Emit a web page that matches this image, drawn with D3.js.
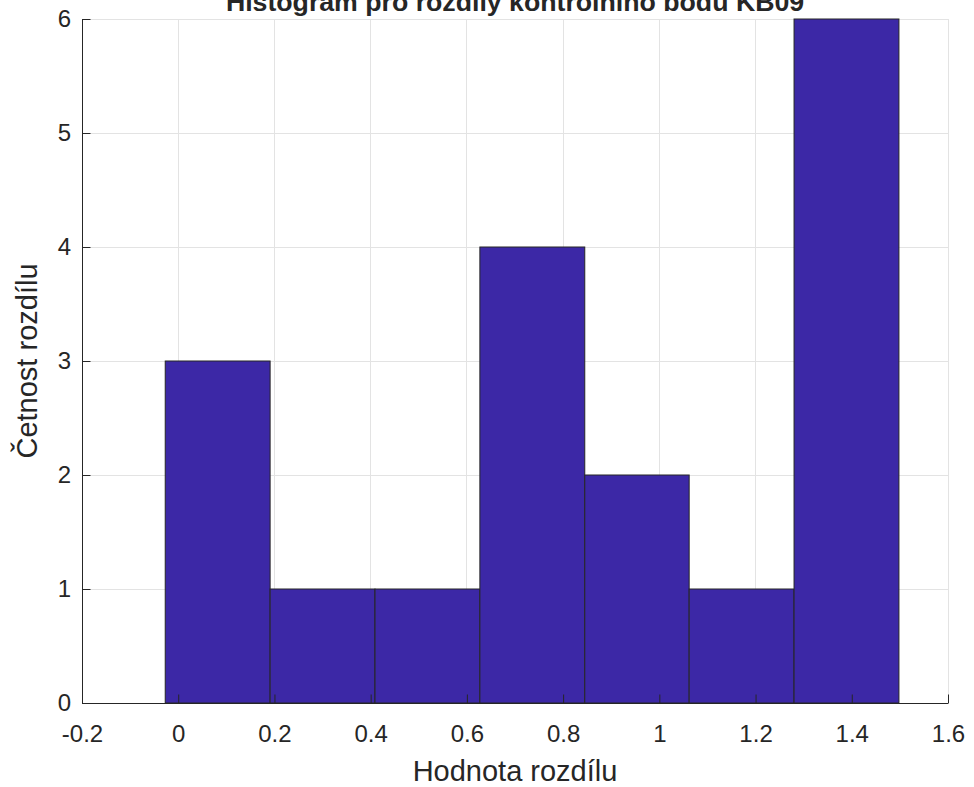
<!DOCTYPE html>
<html>
<head>
<meta charset="utf-8">
<script src="https://cdn.jsdelivr.net/npm/d3@7"></script>
<style>
  html, body { margin: 0; padding: 0; background: #fff; }
  svg { display: block; }
  text { font-family: "Liberation Sans", Arial, Helvetica, sans-serif; fill: #262626; }
</style>
</head>
<body>
<svg id="chart" width="974" height="787"></svg>
<script>
// ---- data ----
const binEdges = [-0.027, 0.191, 0.409, 0.627, 0.845, 1.062, 1.280, 1.498];
const counts = [3, 1, 1, 4, 2, 1, 6];
const xTicks = [-0.2, 0, 0.2, 0.4, 0.6, 0.8, 1.0, 1.2, 1.4, 1.6];
const xTickLabels = ["-0.2", "0", "0.2", "0.4", "0.6", "0.8", "1", "1.2", "1.4", "1.6"];
const yTicks = [0, 1, 2, 3, 4, 5, 6];
const yTickLabels = ["0", "1", "2", "3", "4", "5", "6"];
const titleText = "Histogram pro rozdíly kontrolního bodu KB09";
const xLabelText = "Hodnota rozdílu";
const yLabelText = "Četnost rozdílu";

// ---- layout ----
const L = 82, R = 948, T = 19, B = 703;
const axisColor = "#262626";
const gridColor = "#e3e3e3";
const barColor = "#3c28a6";
const tickLen = 8.5;

const svg = d3.select("#chart");
const x = d3.scaleLinear().domain([-0.2, 1.6]).range([L, R]);
const y = d3.scaleLinear().domain([0, 6]).range([B, T]);

const bins = counts.map((c, i) => ({ x0: binEdges[i], x1: binEdges[i + 1], c }));

// grid
const grid = svg.append("g");
grid.selectAll("line.gx").data(xTicks).join("line")
  .attr("x1", d => x(d)).attr("x2", d => x(d))
  .attr("y1", T).attr("y2", B)
  .attr("stroke", gridColor).attr("stroke-width", 1).attr("shape-rendering", "crispEdges");
grid.selectAll("line.gy").data(yTicks).join("line")
  .attr("x1", L).attr("x2", R)
  .attr("y1", d => y(d)).attr("y2", d => y(d))
  .attr("stroke", gridColor).attr("stroke-width", 1).attr("shape-rendering", "crispEdges");

// bars
svg.append("g").selectAll("rect").data(bins).join("rect")
  .attr("x", d => x(d.x0))
  .attr("y", d => y(d.c))
  .attr("width", d => x(d.x1) - x(d.x0))
  .attr("height", d => y(0) - y(d.c))
  .attr("fill", barColor)
  .attr("stroke", axisColor)
  .attr("stroke-width", 1);

// x axis
const xAxis = d3.axisBottom(x).tickValues(xTicks)
  .tickFormat((d, i) => xTickLabels[i])
  .tickSizeInner(-tickLen).tickSizeOuter(0).tickPadding(22);
const gx = svg.append("g").attr("transform", `translate(0,${B})`).call(xAxis);
gx.select(".domain").attr("stroke", axisColor);
gx.selectAll(".tick line").attr("stroke", axisColor);
gx.selectAll(".tick text").attr("font-size", 24).attr("fill", axisColor)
  .attr("font-family", "Liberation Sans, Arial, sans-serif");

// y axis
const yAxis = d3.axisLeft(y).tickValues(yTicks)
  .tickFormat((d, i) => yTickLabels[i])
  .tickSizeInner(-tickLen).tickSizeOuter(0).tickPadding(11);
const gy = svg.append("g").attr("transform", `translate(${L},0)`).call(yAxis);
gy.select(".domain").attr("stroke", axisColor);
gy.selectAll(".tick line").attr("stroke", axisColor);
gy.selectAll(".tick text").attr("font-size", 24).attr("fill", axisColor)
  .attr("font-family", "Liberation Sans, Arial, sans-serif");

// title
svg.append("text")
  .attr("x", (L + R) / 2).attr("y", 11)
  .attr("text-anchor", "middle")
  .attr("font-size", 26.7).attr("font-weight", "bold")
  .attr("fill", "#000")
  .text(titleText);

// x label
svg.append("text")
  .attr("x", (L + R) / 2).attr("y", 781)
  .attr("text-anchor", "middle")
  .attr("font-size", 29)
  .text(xLabelText);

// y label
svg.append("text")
  .attr("transform", `translate(37,${(T + B) / 2}) rotate(-90)`)
  .attr("text-anchor", "middle")
  .attr("font-size", 29)
  .text(yLabelText);
</script>
</body>
</html>
